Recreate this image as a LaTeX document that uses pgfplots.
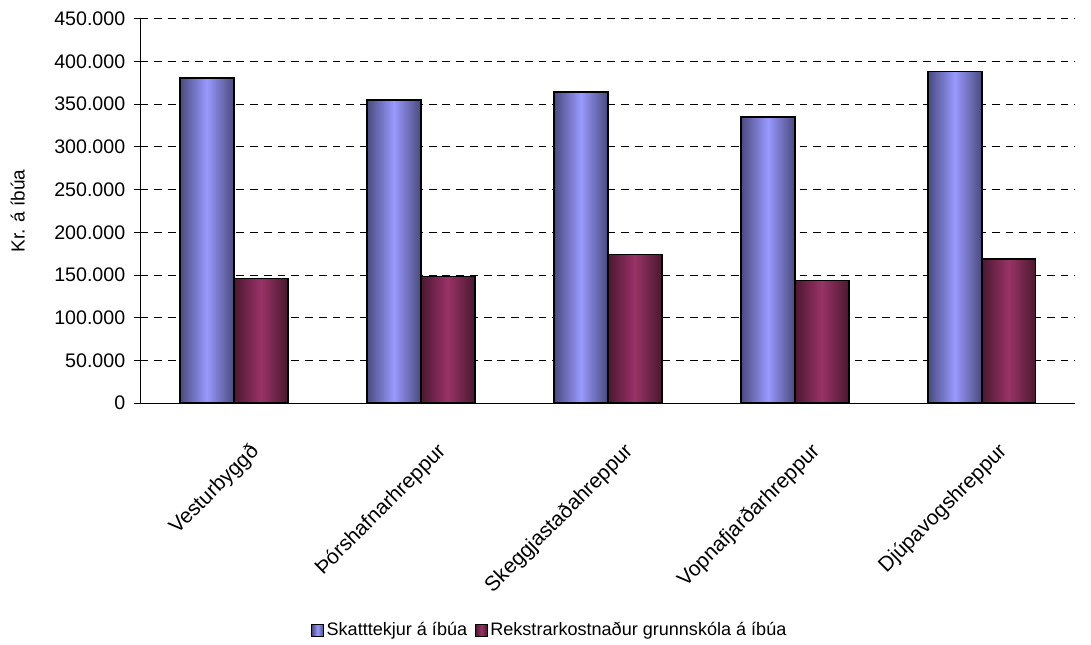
\documentclass[border=0pt]{standalone}
\usepackage{pgfplots}
\pgfplotsset{compat=1.18}
\usepackage{fontspec}
\setmainfont{Liberation Sans}
\definecolor{bmid}{HTML}{9999FF}
\definecolor{bedge}{HTML}{4A4A7E}
\definecolor{mmid}{HTML}{993366}
\definecolor{medge}{HTML}{4A1830}
\pgfplotsset{
  bluebar/.style={ybar, bar width=41.25pt, bar shift=-20.6pt, draw=black, line width=1.2pt, left color=bedge, right color=bedge, middle color=bmid},
  redbar/.style={ybar, bar width=41.25pt, bar shift=20.6pt, draw=black, line width=1.2pt, left color=medge, right color=medge, middle color=mmid},
}
\begin{document}
\begin{tikzpicture}
\begin{axis}[
  scale only axis,
  width=714.75pt, height=294pt,
  xmin=-0.5, xmax=4.5,
  ymin=0, ymax=450000,
  ytick={0,50000,...,450000},
  scaled y ticks=false,
  /pgf/number format/fixed,
  /pgf/number format/1000 sep={.},
  /pgf/number format/assume math mode=true,
  ymajorgrids,
  grid style={black, dash pattern=on 6pt off 4.5pt, line width=0.75pt},
  axis x line*=bottom, axis y line*=left,
  axis line style={-, line width=0.9pt},
  tick style={black, line width=0.75pt},
  major tick length=5pt,
  tick align=outside,
  xtick={0,1,2,3,4},
  xticklabels={Vesturbyggð, Þórshafnarhreppur, Skeggjastaðahreppur, Vopnafjarðarhreppur, Djúpavogshreppur},
  x tick style={draw=none},
  extra x ticks={-0.5,0.5,1.5,2.5,3.5,4.5},
  extra x tick labels={},
  extra x tick style={grid=none, tick style={draw=black, line width=0.75pt}, major tick length=5.5pt},
  x tick label style={rotate=45, anchor=north east, inner sep=0pt, xshift=-9pt, yshift=-25pt, font=\fontsize{16}{18}\selectfont},
  y tick label style={font=\fontsize{15}{17}\selectfont, xshift=-3pt},
  ylabel={Kr. á íbúa},
  ylabel style={at={(axis description cs:-0.131,0.5)}, anchor=center, font=\fontsize{14.5}{17}\selectfont},
  legend style={at={(axis description cs:0.1826,-0.59)}, anchor=west, draw=none, legend columns=2, font=\fontsize{13.8}{16}\selectfont, inner sep=0pt, /tikz/every even column/.append style={column sep=4pt}},
  legend image code/.code={\path[#1, line width=0.75pt] (0pt,-4.5pt) rectangle (9pt,4.5pt);},
]
\addplot[bluebar] coordinates {(0,380800)};
\addlegendentry{Skatttekjur á íbúa}
\addplot[redbar] coordinates {(0,145800)};
\addlegendentry{Rekstrarkostnaður grunnskóla á íbúa}
\addplot[bluebar, forget plot] coordinates {(1,354700)};
\addplot[bluebar, forget plot] coordinates {(2,363900)};
\addplot[bluebar, forget plot] coordinates {(3,335200)};
\addplot[bluebar, forget plot] coordinates {(4,388400)};
\addplot[redbar, forget plot] coordinates {(1,148100)};
\addplot[redbar, forget plot] coordinates {(2,174100)};
\addplot[redbar, forget plot] coordinates {(3,143500)};
\addplot[redbar, forget plot] coordinates {(4,168700)};
\end{axis}
\useasboundingbox (-107.25pt,-184.5pt) rectangle (711pt,308.25pt);
\end{tikzpicture}
\end{document}
